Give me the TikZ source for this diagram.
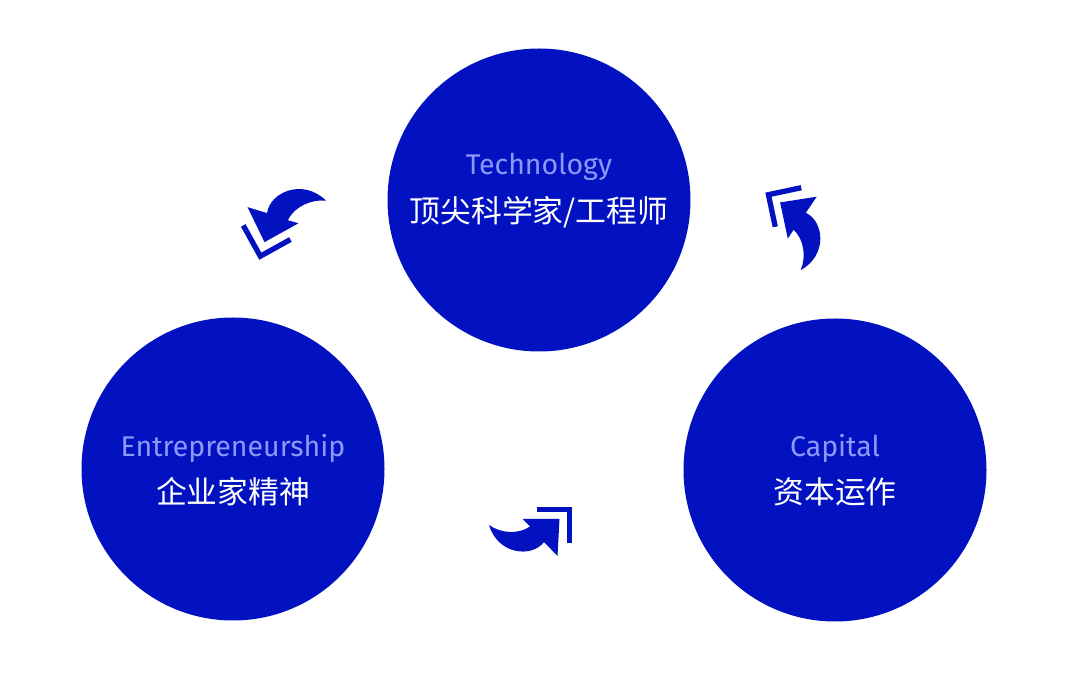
\documentclass[tikz,border=0pt]{standalone}
\usepackage{fontspec}
\setmainfont{Fira Sans}
\newfontfamily\cjk{Noto Sans CJK SC}
\definecolor{cblue}{RGB}{2,18,192}
\definecolor{lightlbl}{RGB}{140,152,250}
\tikzset{
  bigcircle/.style={circle, fill=cblue, minimum size=303pt, inner sep=0pt},
  entext/.style={text=lightlbl, font=\fontsize{28.5}{32}\selectfont, inner sep=0pt},
  cntext/.style={text=white, font=\cjk\fontsize{30.8}{35}\selectfont, inner sep=0pt},
  cyclearrow/.pic={
    \fill[cblue] (-7.5,11) -- (29.5,11) -- (27.5,-26) -- (14,-12)
      .. controls (2,-28) and (-32,-25) .. (-41,5)
      .. controls (-30,-3) and (-12,-5) .. (0,3.5) -- cycle;
    \draw[cblue, line width=5.3pt, line join=miter, line cap=butt]
      (6.7,20.8) -- (39.5,20.8) -- (39.5,-12.7);
  }
}
\begin{document}
\begin{tikzpicture}[x=1pt,y=1pt]
\useasboundingbox (0,0) rectangle (1080,694);
\node[bigcircle] (tech) at (539,494) {};
\node[bigcircle] (entre) at (233,225) {};
\node[bigcircle] (cap) at (835,224) {};
\node[entext] (techen) at (539,527) {Technology};
\node[cntext] (techcn) at (539,482) {顶尖科学家/工程师};
\node[entext] (entreen) at (233,246) {Entrepreneurship};
\node[cntext] (entrecn) at (233,202) {企业家精神};
\node[entext] (capen) at (835,246) {Capital};
\node[cntext] (capcn) at (835,202) {资本运作};
\pic at (530,164) {cyclearrow};
\pic[rotate=102] at (797,465) {cyclearrow};
\pic[rotate=209, scale=1.05] at (286,477) {cyclearrow};
\end{tikzpicture}
\end{document}
